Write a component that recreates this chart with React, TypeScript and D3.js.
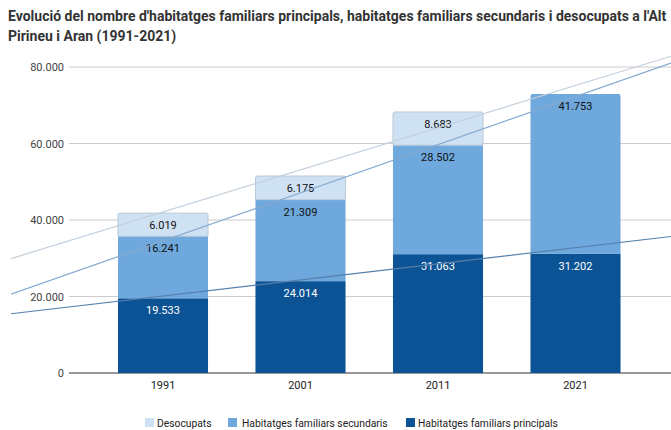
import React from "react";
import * as d3 from "d3";

const years = ["1991", "2001", "2011", "2021"];
const principals = [19533, 24014, 31063, 31202];
const secundaris = [16241, 21309, 28502, 41753];
const desocupats = [6019, 6175, 8683, 0];
const yTicks = [0, 20000, 40000, 60000, 80000];
const seriesNames = ["Desocupats", "Habitatges familiars secundaris", "Habitatges familiars principals"];

const W = 671;
const H = 430;
const colors = { dark: "#0b5394", mid: "#6fa8dc", light: "#cfe2f3" };
const fmt = (v: number) => d3.format(",")(v).replace(/,/g, ".");

function regression(vals: number[]) {
  const xs = vals.map((_, i) => i);
  const mx = d3.mean(xs)!;
  const my = d3.mean(vals)!;
  let num = 0, den = 0;
  xs.forEach((x, i) => { num += (x - mx) * (vals[i] - my); den += (x - mx) ** 2; });
  const slope = num / den;
  return (x: number) => my + slope * (x - mx);
}

export default function App() {
  const x = d3.scaleBand<string>().domain(years).range([94.25, 644.25]).paddingInner(0.345).paddingOuter(0.1725);
  const y = d3.scaleLinear().domain([0, 80000]).range([373, 67]);
  const bw = x.bandwidth();
  const step = x.step();
  const cx = (i: number) => x(years[i])! + bw / 2;
  const idxOfPx = (px: number) => (px - cx(0)) / step;

  const cumP = principals;
  const cumS = principals.map((v, i) => v + secundaris[i]);
  const cumD = cumS.map((v, i) => v + desocupats[i]);

  const trends = [
    { vals: cumD, color: "#c3cfdb" },
    { vals: cumS, color: "#86a9cf" },
    { vals: cumP, color: "#5580ad" },
  ];
  const x0 = 11, x1 = W;

  const font = "Roboto, sans-serif";

  const legendItems = [
    { name: seriesNames[0], color: colors.light, sx: 145, tx: 157 },
    { name: seriesNames[1], color: colors.mid, sx: 228, tx: 242 },
    { name: seriesNames[2], color: colors.dark, sx: 406, tx: 418 },
  ];

  const roundTop = (x0: number, y0: number, w: number, h: number, r: number) =>
    `M${x0},${y0 + h}V${y0 + r}Q${x0},${y0} ${x0 + r},${y0}H${x0 + w - r}Q${x0 + w},${y0} ${x0 + w},${y0 + r}V${y0 + h}Z`;

  return (
    <svg width={W} height={H} style={{ position: "absolute", left: 0, top: 0, background: "#fff" }} fontFamily={font}>
      <defs>
        <clipPath id="plotclip"><rect x={x0} y={40} width={x1 - x0} height={373 - 40} /></clipPath>
      </defs>
      <text x={8} y={21} fontSize={14} fontWeight="bold" fill="#333">Evolució del nombre d'habitatges familiars principals, habitatges familiars secundaris i desocupats a l'Alt</text>
      <text x={8} y={41} fontSize={14} fontWeight="bold" fill="#333">Pirineu i Aran (1991-2021)</text>

      {yTicks.map(t => (
        <g key={t}>
          <line x1={69} x2={W} y1={y(t)} y2={y(t)} stroke={t === 0 ? "#333" : "#ccc"} strokeWidth={1} />
          <text x={64} y={y(t) + 4} fontSize={11} textAnchor="end" fill="#444">{fmt(t)}</text>
        </g>
      ))}

      {years.map((yr, i) => {
        const bx = x(yr)!;
        const segs = [
          { v: principals[i], base: 0, color: colors.dark, txt: "#fff" },
          { v: secundaris[i], base: cumP[i], color: colors.mid, txt: "#111" },
          { v: desocupats[i], base: cumS[i], color: colors.light, txt: "#111" },
        ].filter(s => s.v > 0);
        return (
          <g key={yr}>
            {segs.map((s, j) => {
              const top = y(s.base + s.v);
              const h = y(s.base) - top;
              const isTop = j === segs.length - 1;
              return isTop ? (
                <path key={j} d={roundTop(bx, top, bw, h, 2)} fill={s.color} stroke={s.color === colors.light ? "#b9c8d6" : "none"} strokeWidth={1} />
              ) : (
                <rect key={j} x={bx} y={top} width={bw} height={h} fill={s.color} />
              );
            })}
            {segs.map((s, j) => (
              <text key={"t" + j} x={bx + bw / 2} y={y(s.base + s.v) + 16} fontSize={11} textAnchor="middle" fill={s.txt}>{fmt(s.v)}</text>
            ))}
            <text x={bx + bw / 2} y={389} fontSize={11} textAnchor="middle" fill="#222">{yr}</text>
          </g>
        );
      })}

      <g clipPath="url(#plotclip)">
        {trends.map((t, k) => {
          const f = regression(t.vals);
          return (
            <line key={k} x1={x0} x2={x1} y1={y(f(idxOfPx(x0)))} y2={y(f(idxOfPx(x1)))} stroke={t.color} strokeWidth={1.2} />
          );
        })}
      </g>

      {legendItems.map(l => (
        <g key={l.name}>
          <rect x={l.sx} y={418} width={9} height={9} fill={l.color} />
          <text x={l.tx} y={426.5} fontSize={10.3} fill="#222">{l.name}</text>
        </g>
      ))}
    </svg>
  );
}
